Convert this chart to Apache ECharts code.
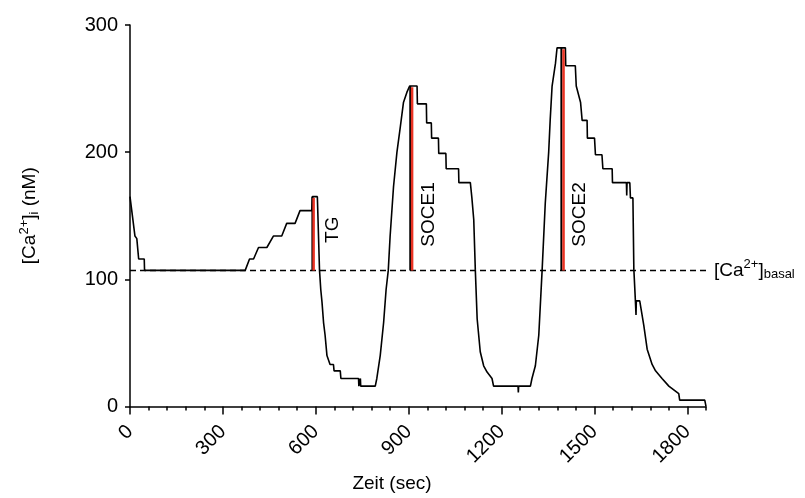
<!DOCTYPE html>
<html>
<head>
<meta charset="utf-8">
<script src="https://cdn.jsdelivr.net/npm/echarts@6/dist/echarts.min.js"></script>
<style>
html,body{margin:0;padding:0;background:#fff;}
#chart{width:805px;height:498px;}
</style>
</head>
<body>
<div id="chart"></div>
<script>
// ---- data ----
const times = [0,16,22,28,46,47,372,386,399,415,442,463,490,506,533,549,587,589,605,612,616,620,625,630,636,646,657,659,679,681,738,739,744,745,792,797,808,819,827,834,840,851,862,873,883,894,903,927,928,957,958,973,974,996,997,1020,1021,1061,1062,1099,1104,1110,1115,1121,1131,1142,1153,1169,1174,1253,1254,1255,1293,1298,1309,1320,1331,1341,1352,1357,1363,1374,1379,1406,1407,1438,1441,1455,1460,1476,1477,1500,1503,1524,1527,1557,1558,1603,1604,1605,1614,1616,1624,1627,1632,1634,1635,1646,1659,1670,1686,1697,1718,1740,1772,1775,1856,1860];
const caValues = [165,134,132,116,116,107,107,116,116,125,125,134,134,144,144,154,154,165,165,107,92,82,66,56,40,33,33,28,28,22,22,16,22,16,16,22,40,66,92,107,134,173,200,220,239,247,252,252,238,238,223,223,211,211,199,199,187,187,176,176,164,147,108,69,43,32,27,22,16,16,11,16,16,22,32,56,108,160,200,226,252,270,282,282,268,268,252,239,225,225,211,211,198,198,187,187,176,176,166,176,176,164,164,108,83,72,83,83,64,45,33,28,22,16,10,5,5,0];
const basal = 107;
const eventNames = ['TG','SOCE1','SOCE2'];
const eventBlackT = [589,905,1393];
const eventRedT = [593,911,1400];
const eventPeaks = [165,252,282];
const labelT = [654,966,1453];
const labelV = [139,151,151];
const xTicks = [0,300,600,900,1200,1500,1800];
const xMinorTicks = [0,60,120,180,240,300,360,420,480,540,600,660,720,780,840,900,960,1020,1080,1140,1200,1260,1320,1380,1440,1500,1560,1620,1680,1740,1800,1860];
const yTicks = [0,100,200,300];
const xMax = 1860;

const FONT = 'Liberation Sans, Arial, Helvetica, sans-serif';
const FS = 19;
const TFS = 20;

const series = [];
series.push({
  type:'line', name:'basal', xAxisIndex:0, yAxisIndex:0,
  data:[[0,basal],[xMax,basal]], symbol:'none', silent:true,
  lineStyle:{color:'#000', width:1.5, type:[6,4]},
  endLabel:{show:true, distance:8, color:'#000', fontSize:FS, fontFamily:FONT,
    formatter:function(){return '[Ca{sup|2+}]{sub|basal}';},
    rich:{sup:{fontSize:13, fontFamily:FONT, color:'#000', padding:[0,0,11,0]},
          sub:{fontSize:13, fontFamily:FONT, color:'#000', padding:[9,0,0,0]}}}
});
series.push({
  type:'line', name:'trace', xAxisIndex:0, yAxisIndex:0,
  data: times.map((t,i)=>[t,caValues[i]]), symbol:'none', silent:true,
  lineStyle:{color:'#000', width:1.6}
});
eventNames.forEach((n,i)=>{
  series.push({type:'line', xAxisIndex:0, yAxisIndex:0, symbol:'none', silent:true,
    data:[[eventBlackT[i],basal],[eventBlackT[i],eventPeaks[i]]],
    lineStyle:{color:'#000', width:2}});
  series.push({type:'line', xAxisIndex:0, yAxisIndex:0, symbol:'none', silent:true,
    data:[[eventRedT[i],basal],[eventRedT[i],eventPeaks[i]-1]],
    lineStyle:{color:'#ea3323', width:2.5}});
});
series.push({
  type:'scatter', xAxisIndex:0, yAxisIndex:0, symbolSize:0, silent:true,
  itemStyle:{opacity:1, color:'#000'},
  data: eventNames.map((n,i)=>({value:[labelT[i],labelV[i]], name:n})),
  label:{show:true, position:'inside', rotate:90, formatter:'{b}', color:'#000',
    textBorderWidth:0, textBorderColor:'transparent', opacity:1, fontSize:FS, fontFamily:FONT}
});

const chart = echarts.init(document.getElementById('chart'), null, {renderer:'canvas'});
chart.setOption({
  animation:false,
  backgroundColor:'#fff',
  textStyle:{fontFamily:FONT},
  grid:{left:130, right:99, top:25, bottom:90, containLabel:false},
  xAxis:[{
    type:'value', min:0, max:xMax, position:'bottom',
    axisLine:{show:true, lineStyle:{color:'#000', width:1.5}},
    axisTick:{show:true, customValues:xTicks, length:8, lineStyle:{color:'#000', width:1.5}},
    axisLabel:{customValues:xTicks, rotate:45, color:'#000', fontSize:TFS, fontFamily:FONT, margin:22,
      formatter:function(v){return String(v);}},
    splitLine:{show:false},
    name:'Zeit (sec)', nameLocation:'middle', nameGap:67,
    nameTextStyle:{color:'#000', fontSize:FS, fontFamily:FONT, padding:[0,52,0,0]}
  },{
    type:'value', min:0, max:xMax, position:'bottom',
    axisLine:{show:false},
    axisTick:{show:true, customValues:xMinorTicks, length:4, lineStyle:{color:'#000', width:1.5}},
    axisLabel:{show:false},
    splitLine:{show:false}
  }],
  yAxis:[{
    type:'value', min:0, max:300, interval:100,
    axisLine:{show:true, lineStyle:{color:'#000', width:1.5}},
    axisTick:{show:true, length:5, lineStyle:{color:'#000', width:1.5}},
    axisLabel:{color:'#000', fontSize:TFS, fontFamily:FONT, margin:12,
      customValues:yTicks},
    splitLine:{show:false},
    name:'[Ca{sup|2+}]{sub|i} (nM)', nameLocation:'middle', nameGap:88,
    nameTextStyle:{color:'#000', fontSize:FS, fontFamily:FONT,
      rich:{sup:{fontSize:13, fontFamily:FONT, color:'#000', padding:[0,0,11,0]},
            sub:{fontSize:13, fontFamily:FONT, color:'#000', padding:[9,0,0,0]}}}
  }],
  series: series
});
</script>
</body>
</html>
